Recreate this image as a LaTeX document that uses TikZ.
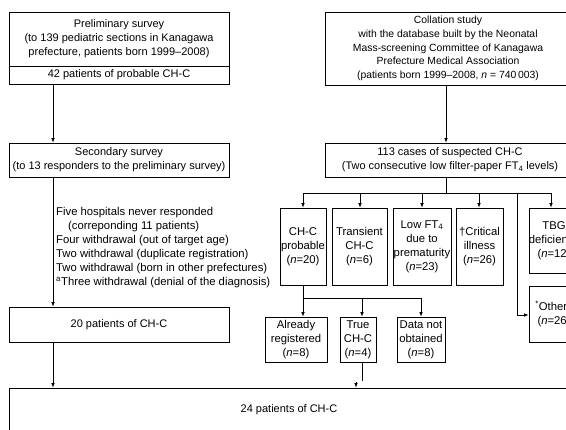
\documentclass[tikz,border=0pt]{standalone}
\usepackage{fontspec}
\setmainfont{Liberation Sans}
\usetikzlibrary{arrows.meta}
\begin{document}
\begin{tikzpicture}[x=1pt,y=-1pt,
  every node/.style={font=\fontsize{11}{14}\selectfont},
  box/.style={draw, line width=0.7pt, inner sep=0pt, align=center},
  small/.style={font=\fontsize{10.4}{13.6}\selectfont},
  big/.style={font=\fontsize{11.3}{14}\selectfont},
  plain/.style={inner sep=0pt, align=left},
  arr/.style={line width=0.7pt, -{Latex[length=4.5pt,width=3.6pt]}},
  ln/.style={line width=0.7pt}]
\useasboundingbox (0,0) rectangle (566,430);
\clip (0,0) rectangle (566,430);

% left column
\node[box, minimum width=220pt, minimum height=54pt] (prelimA) at (119,39)
  {Preliminary survey\\(to 139 pediatric sections in Kanagawa\\prefecture, patients born 1999--2008)};
\node[box, minimum width=220pt, minimum height=18pt] (prelimB) at (119,75)
  {42 patients of probable CH-C};
\node[box, minimum width=220pt, minimum height=34pt] (second) at (119,160)
  {Secondary survey\\(to 13 responders to the preliminary survey)};
\node[plain, big, anchor=west] (reasons) at (56,248)
  {Five hospitals never responded\\
   \hspace*{12pt}(correponding 11 patients)\\
   Four withdrawal (out of target age)\\
   Two withdrawal (duplicate registration)\\
   Two withdrawal (born in other prefectures)\\
   \textsuperscript{a}Three withdrawal (denial of the diagnosis)};
\node[box, minimum width=220pt, minimum height=35pt] (twenty) at (119,324.5)
  {20 patients of CH-C};
\node[box, minimum width=560pt, minimum height=44pt] (bottom) at (289,410)
  {24 patients of CH-C};

% right column
\node[box, small, minimum width=246pt, minimum height=73pt] (collation) at (448,48.5)
  {Collation study\\with the database built by the Neonatal\\Mass-screening Committee of Kanagawa\\Prefecture Medical Association\\(patients born 1999--2008, \textit{n} = 740\,003)};
\node[box, minimum width=250pt, minimum height=34pt] (susp) at (450,160)
  {113 cases of suspected CH-C\\(Two consecutive low filter-paper FT\textsubscript{4} levels)};

\node[box, big, minimum width=46pt, minimum height=77pt] (prob) at (303,246.5)
  {CH-C\\probable\\(\textit{n}=20)};
\node[box, big, minimum width=55pt, minimum height=77pt] (trans) at (359.5,246.5)
  {Transient\\CH-C\\(\textit{n}=6)};
\node[box, big, minimum width=58pt, minimum height=77pt] (lowft) at (422,246.5)
  {Low FT\textsubscript{4}\\due to\\prematurity\\(\textit{n}=23)};
\node[box, big, minimum width=47pt, minimum height=77pt] (crit) at (479.5,246.5)
  {\textdagger Critical\\illness\\(\textit{n}=26)};
\node[box, big, minimum width=50pt, minimum height=65pt] (tbg) at (554,240.5)
  {TBG\\deficiency\\(\textit{n}=12)};
\node[box, big, minimum width=50pt, minimum height=56pt] (other) at (554,314)
  {\textsuperscript{*}Others\\(\textit{n}=26)};

\node[box, big, minimum width=62pt, minimum height=45pt] (already) at (296,339.5)
  {Already\\registered\\(\textit{n}=8)};
\node[box, big, minimum width=36pt, minimum height=45pt] (truech) at (358,339.5)
  {True\\CH-C\\(\textit{n}=4)};
\node[box, big, minimum width=48pt, minimum height=45pt] (datano) at (421,339.5)
  {Data not\\obtained\\(\textit{n}=8)};

% connectors, left
\coordinate (xL) at (53,0);
\draw[arr] (prelimB.south -| xL) -- (second.north -| xL);
\draw[arr] (second.south -| xL) -- (twenty.north -| xL);
\draw[arr] (twenty.south -| xL) -- (bottom.north -| xL);

% connectors, right
\coordinate (xR) at (446,0);
\draw[arr] (collation.south -| xR) -- (susp.north -| xR);
\coordinate (j1) at (446,193);
\draw[ln] (susp.south -| xR) -- (j1);
\coordinate (hL) at (303,193);
\coordinate (b2) at (360,193);
\coordinate (b3) at (422,193);
\coordinate (b4) at (479,193);
\coordinate (hR) at (551,193);
\draw[ln] (hL) -- (hR);
\draw[arr] (hL) -- (prob.north -| hL);
\draw[arr] (b2) -- (trans.north -| b2);
\draw[arr] (b3) -- (lowft.north -| b3);
\draw[arr] (b4) -- (crit.north -| b4);
\draw[arr] (hR) -- (tbg.north -| hR);
\coordinate (o1) at (517,193);
\coordinate (o2) at (517,315);
\draw[arr] (o1) -- (o2) -- (other.west |- o2);

\coordinate (k0) at (303,298);
\coordinate (k1) at (362,298);
\coordinate (k2) at (421,298);
\draw[ln] (prob.south) -- (k0) -- (k2);
\draw[arr] (k0) -- (already.north -| k0);
\draw[arr] (k1) -- (truech.north -| k1);
\draw[arr] (k2) -- (datano.north -| k2);

\coordinate (t1) at (362,381);
\coordinate (t2) at (356,382);
\draw[ln] (truech.south -| k1) -- (t1);
\draw[arr] (t2) -- (bottom.north -| t2);
\end{tikzpicture}
\end{document}
